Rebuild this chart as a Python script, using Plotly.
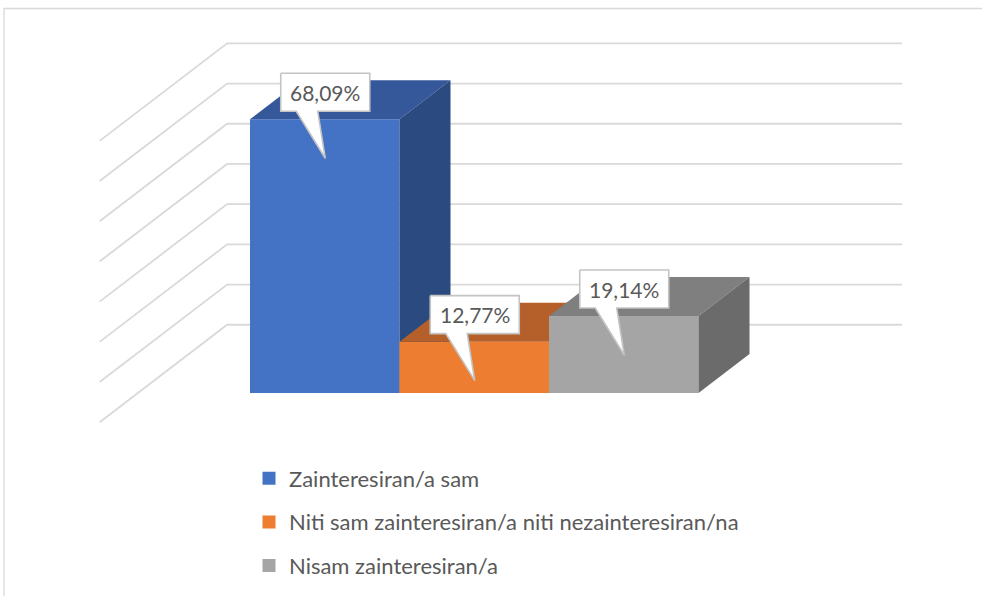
import plotly.graph_objects as go

# ---- data ----
series = ["Zainteresiran/a sam",
          "Niti sam zainteresiran/a niti nezainteresiran/na",
          "Nisam zainteresiran/a"]
values = [68.09, 12.77, 19.14]
labels = ["68,09%", "12,77%", "19,14%"]
grid_values = [0, 10, 20, 30, 40, 50, 60, 70]

# ---- style ----
front_colors = ["#4472C4", "#ED7D31", "#A5A5A5"]
top_colors = ["#34589A", "#B5602A", "#7F7F7F"]
side_colors = ["#2B4A7F", "#9A5220", "#6B6B6B"]
GRID = "#D9D9D9"
TXT = "#595959"
FONT = "Lato"

W, H = 982, 596
PX_X = 149.5          # pixels per category-unit (one bar width)
PX_Y = 4.02           # pixels per value unit
X_ORIGIN_PX = 250     # screen x of first bar's front-left edge
Y_ORIGIN_PX = 393     # screen y of value 0 on bar front plane
DX = 51 / PX_X        # oblique depth vector (one bar depth)
DY = 39 / PX_Y
GAP = 0.75            # 150% gap width / gap depth

x_range = [-X_ORIGIN_PX / PX_X, (W - X_ORIGIN_PX) / PX_X]
y_range = [-(H - Y_ORIGIN_PX) / PX_Y, Y_ORIGIN_PX / PX_Y]

n = len(values)
fig = go.Figure()

# gridlines: side wall + back wall
gx, gy = [], []
for v in grid_values:
    gx += [-GAP - GAP * DX, -GAP + (1 + GAP) * DX, n + GAP + (1 + GAP) * DX + 0.015, None]
    gy += [v - GAP * DY, v + (1 + GAP) * DY, v + (1 + GAP) * DY, None]
fig.add_trace(go.Scatter(x=gx, y=gy, mode="lines", line=dict(color=GRID, width=1.8),
                         hoverinfo="skip", showlegend=False))

# bars (front, top, side faces)
for i, v in enumerate(values):
    fig.add_trace(go.Scatter(
        x=[i, i + 1, i + 1, i, i], y=[0, 0, v, v, 0], fill="toself", mode="lines",
        fillcolor=front_colors[i], line=dict(width=0), legendgroup=series[i],
        showlegend=False, name=series[i], hoverinfo="name+text", text=labels[i]))
    fig.add_trace(go.Scatter(
        x=[i, i + 1, i + 1 + DX, i + DX, i], y=[v, v, v + DY, v + DY, v],
        fill="toself", mode="lines", fillcolor=top_colors[i], line=dict(width=0),
        legendgroup=series[i], showlegend=False, hoverinfo="skip"))
    fig.add_trace(go.Scatter(
        x=[i + 1, i + 1 + DX, i + 1 + DX, i + 1, i + 1], y=[0, DY, v + DY, v, 0],
        fill="toself", mode="lines", fillcolor=side_colors[i], line=dict(width=0),
        legendgroup=series[i], showlegend=False, hoverinfo="skip"))

# callout data labels
HW = 44.5 / PX_X
for i, v in enumerate(values):
    cx = i + 0.5 + 0.5 / PX_X
    yb = v + 8 / PX_Y
    yt = yb + 38 / PX_Y
    tip = v - 39 / PX_Y
    b1 = cx - 29 / PX_X
    b2 = cx - 7.5 / PX_X
    fig.add_trace(go.Scatter(
        x=[cx - HW, cx + HW, cx + HW, b2, cx, b1, cx - HW, cx - HW],
        y=[yt, yt, yb, yb, tip, yb, yb, yt],
        fill="toself", mode="lines", fillcolor="white",
        line=dict(color="#C4C4C4", width=1.6), showlegend=False, hoverinfo="skip"))
    fig.add_annotation(x=cx, y=(yb + yt) / 2, text=labels[i], showarrow=False,
                       font=dict(family=FONT, size=21, color=TXT),
                       xanchor="center", yanchor="middle")

# legend entries
for i, name in enumerate(series):
    fig.add_trace(go.Scatter(
        x=[None], y=[None], mode="markers", name=name, legendgroup=name,
        marker=dict(symbol="square", size=13, color=front_colors[i])))

fig.update_layout(
    width=W, height=H,
    margin=dict(l=0, r=0, t=0, b=0),
    paper_bgcolor="white", plot_bgcolor="white",
    xaxis=dict(range=x_range, visible=False, fixedrange=True),
    yaxis=dict(range=y_range, visible=False, fixedrange=True),
    showlegend=True,
    legend=dict(x=249 / W, y=1 - 457.5 / H, xanchor="left", yanchor="top",
                orientation="v", tracegroupgap=12, bgcolor="rgba(0,0,0,0)",
                font=dict(family=FONT, size=22, color=TXT), itemwidth=30),
    shapes=[dict(type="rect", xref="paper", yref="paper",
                 x0=4 / W, x1=1.05, y0=1 - 8.5 / H, y1=-0.05,
                 line=dict(color=GRID, width=1.3), fillcolor="rgba(0,0,0,0)",
                 layer="below")],
)

fig.write_html("out.html", config={"displayModeBar": False},
               post_script="document.body.style.margin='0';"
                           "document.body.style.overflow='hidden';")
